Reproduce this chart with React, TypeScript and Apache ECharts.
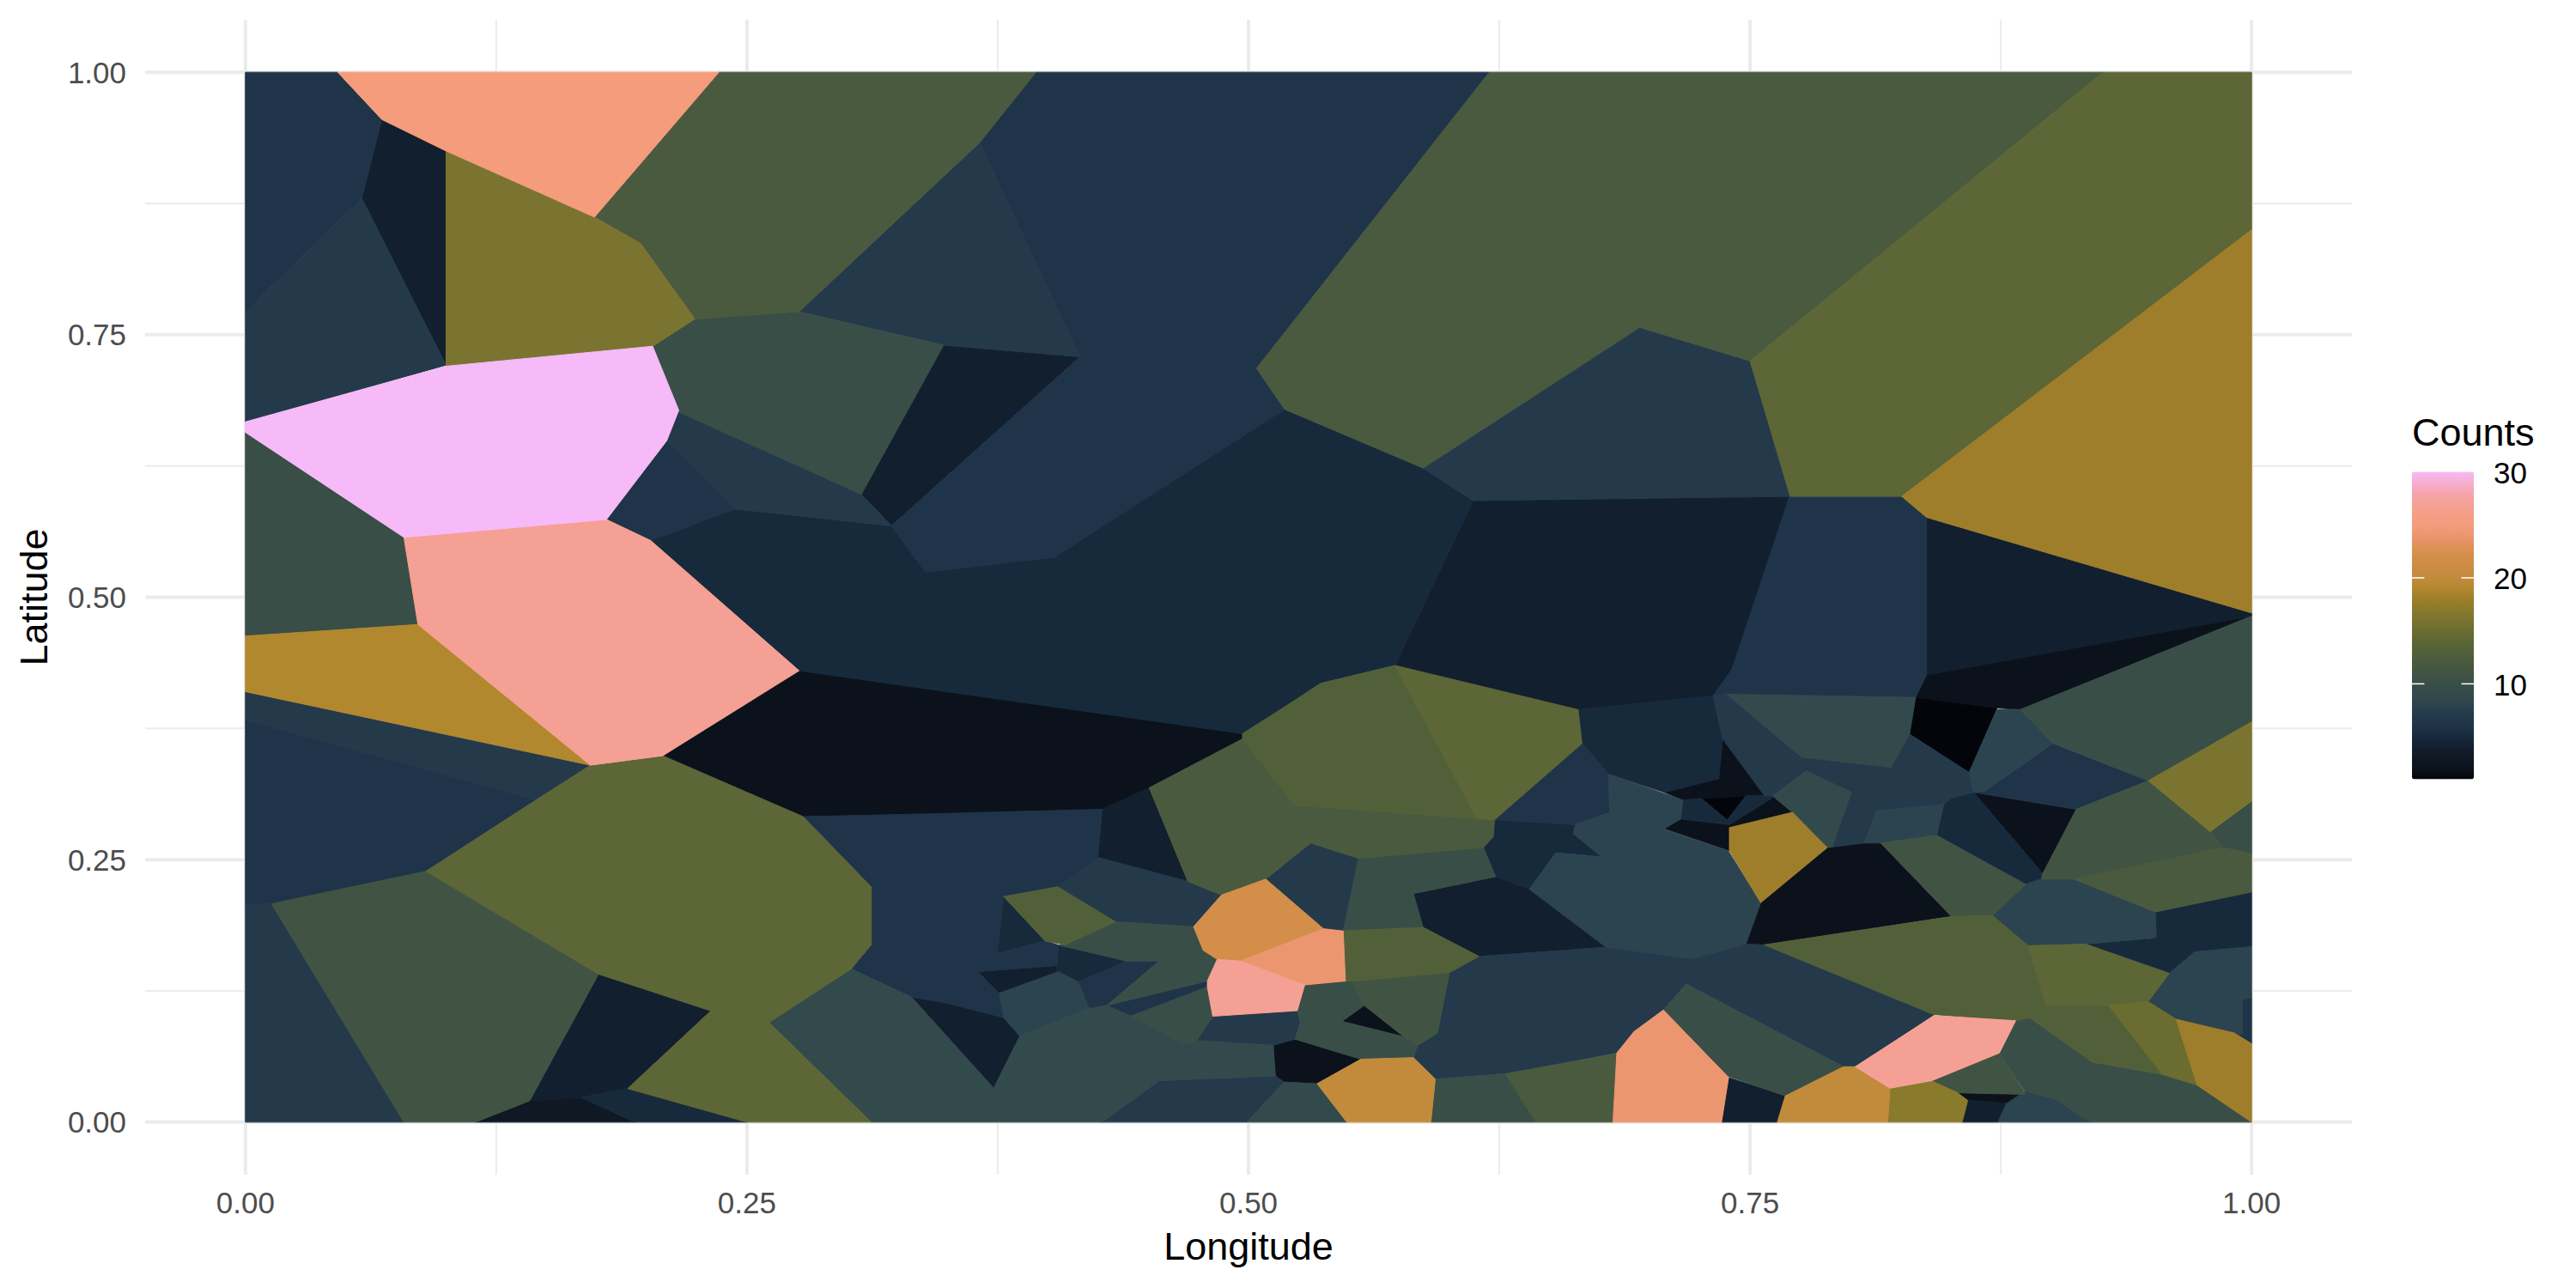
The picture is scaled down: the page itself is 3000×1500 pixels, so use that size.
import React, { useEffect, useRef } from "react";
import * as echarts from "echarts";

type Poly = number[][];

const xTitle = "Longitude";
const yTitle = "Latitude";
const legendTitle = "Counts";
const majorBreaks = [0, 0.25, 0.5, 0.75, 1];
const minorBreaks = [0.125, 0.375, 0.625, 0.875];
const legendBreaks = [10, 20, 30];
const minCount = 1;
const maxCount = 30;
const paletteColors = [
  "#04050a", "#0c121c", "#101824", "#121f2e", "#172a3c", "#1f3449", "#243a4b", "#2c4350", "#334a4c", "#394e47",
  "#415443", "#4a5a3f", "#52603a", "#5c6636", "#6b6c2f", "#7b7430", "#8a7a2c", "#9e7e2b", "#b2882f", "#c28b3c",
  "#cb8d42", "#d38e4a", "#df9258", "#ec9670", "#f49c7c", "#f59e88", "#f5a094", "#f6a5ae", "#f6aed0", "#f5baf7",
];

const cells1: Poly[] = [
  [[.8325,.4046],[.8731,.3944],[.8592,.3331],[.8295,.3696]],
  [[.7258,.3083],[.7479,.3106],[.7386,.2878]],
];
const cells2: Poly[] = [
  [[.208,.349],[.276,.430],[.497,.370],[.497,.365],[.4505,.3185],[.427,.298],[.3485,.294],[.278,.291]],
  [[.5123,.0732],[.5232,.079],[.556,.06],[.5342,.0367],[.5178,.0382],[.5134,.044]],
  [[.5577,.1112],[.5774,.0814],[.5466,.096]],
  [[.8325,.4046],[.838,.426],[1,.482],[.8847,.393],[.8731,.3944]],
  [[.8615,.3141],[.9126,.298],[.8959,.2367]],
  [[.7885,.2615],[.7908,.2621],[.807,.2659],[.8151,.2659],[.8504,.1959],[.757,.1689],[.7479,.1696],[.7553,.209]],
  [[.7344,.3272],[.7363,.3652],[.7571,.3112],[.7479,.3106],[.7258,.3083],[.7165,.3068],[.7073,.3141]],
  [[.7606,.3083],[.7613,.3106],[.7711,.2951],[.7397,.2805],[.7397,.2834]],
  [[.7154,.2887],[.7397,.2834],[.7397,.2586],[.7073,.2796]],
  [[.8534,.028],[.8875,.0265],[.8801,.0177],[.8585,.0207]],
];
const cells3: Poly[] = [
  [[.1147,0],[.1417,.0204],[.1674,.0237],[.194,0]],
];
const cells4: Poly[] = [
  [[.068,.955],[.100,.925],[.100,.721],[.058,.880]],
  [[.348,.740],[.416,.729],[.322,.568],[.307,.598]],
  [[.612,.592],[.770,.598],[.7409,.431],[.7316,.4061],[.6643,.3929],[.573,.435]],
  [[.838,.576],[1,.485],[1,.482],[.838,.426]],
  [[.427,.298],[.4505,.3185],[.4697,.2294],[.4249,.2522]],
  [[.332,.119],[.3485,.114],[.378,.0995],[.386,.082],[.373,.0323]],
  [[.3649,.1433],[.4042,.1491],[.4053,.1433],[.3758,.1228]],
  [[.5822,.2177],[.6232,.2338],[.64,.222],[.6783,.1666],[.6149,.1579],[.587,.1856]],
  [[.7393,.0425],[.7676,.025],[.7636,0],[.7358,0]],
  [[.8585,.0207],[.8778,.0177],[.8736,0],[.8557,0]],
  [[.176,.141],[.232,.106],[.1905,.032],[.1674,.0237],[.1417,.0204]],
];
const cells5: Poly[] = [
  [[.6226,.288],[.663,.2834],[.6619,.2747],[.6761,.2528],[.6532,.2566],[.64,.222],[.6232,.2338],[.6171,.2615],[.622,.272]],
  [[.6643,.3929],[.7316,.4061],[.7363,.3652],[.7344,.3272],[.7073,.3141],[.6794,.3316],[.6663,.3608],[.666,.364]],
  [[.4053,.1687],[.4391,.1535],[.4151,.1336],[.4042,.1433]],
  [[.378,.2148],[.3987,.1725],[.3747,.1608]],
  [[.8465,.3024],[.8499,.3097],[.8615,.3141],[.8959,.2367],[.8952,.2315],[.887,.2265],[.843,.2732]],
  [[.7165,.3068],[.7258,.3083],[.7386,.2878],[.7397,.2834],[.7154,.2887]],
  [[.7479,.3106],[.7571,.3112],[.7613,.3106],[.7606,.3083],[.7397,.2834],[.7386,.2878]],
  [[.9172,.1696],[.952,.1754],[.952,.2002],[1,.2192],[1,.1672],[.9717,.1622],[.959,.1418]],
  [[.1674,.0237],[.1905,.032],[.25,0],[.194,0]],
];
const cells6: Poly[] = [
  [[0,1],[.046,1],[.068,.955],[.058,.880],[0,.772]],
  [[.394,1],[.620,1],[.504,.718],[.518,.679],[.403,.538],[.339,.524],[.322,.568],[.416,.729],[.366,.933]],
  [[0,.383],[.145,.307],[.090,.239],[.013,.208],[0,.208]],
  [[.278,.291],[.3485,.294],[.427,.298],[.4249,.2522],[.4173,.2367],[.4048,.2242],[.378,.2148],[.3747,.1608],[.3649,.1433],[.3758,.1228],[.378,.0995],[.3485,.114],[.332,.119],[.302,.146],[.312,.169],[.312,.224]],
  [[.3747,.1608],[.3987,.1725],[.4053,.1687],[.4042,.1491],[.3649,.1433]],
  [[.4151,.1336],[.4391,.1535],[.4555,.1535],[.4293,.1112],[.4206,.1082]],
  [[.4293,.1112],[.4795,.1345],[.4795,.1287],[.4413,.101]],
  [[.6663,.3608],[.6794,.3316],[.68,.2951],[.663,.2834],[.6226,.288]],
  [[.770,.598],[.8256,.596],[.838,.576],[.838,.426],[.8325,.4046],[.7386,.4075],[.7316,.4061],[.7409,.431]],
  [[.901,.3608],[.9485,.3252],[.9126,.298],[.8615,.3141],[.8673,.3156]],
  [[.210,.649],[.244,.584],[.202,.554],[.180,.574]],
  [[.9954,.117],[1,.1185],[1,.0747],[.9914,.0849],[.9954,.0834]],
];
const cells7: Poly[] = [
  [[.366,.933],[.416,.729],[.348,.740],[.276,.772]],
  [[0,.772],[.058,.880],[.100,.721],[0,.667]],
  [[0,.410],[.172,.340],[.145,.307],[0,.383]],
  [[0,.208],[.013,.208],[.079,0],[0,0]],
  [[.216,.678],[.307,.598],[.322,.568],[.244,.584],[.210,.649]],
  [[.587,.623],[.695,.757],[.750,.725],[.770,.596],[.612,.592]],
  [[.4555,.0396],[.5134,.044],[.5178,.0382],[.4992,0],[.4271,0]],
  [[.6149,.1579],[.6783,.1666],[.7212,.1558],[.7479,.1696],[.757,.1689],[.8418,.1024],[.8024,.0528],[.7966,.0528],[.7182,.1316],[.7068,.1068],[.6922,.0863],[.5942,.0849],[.6001,.1424]],
  [[.5822,.0615],[.5844,.0732],[.5942,.0849],[.6922,.0863],[.6836,.0659],[.6281,.0461],[.5931,.041]],
  [[.4048,.2242],[.4249,.2522],[.4697,.2294],[.4865,.2163],[.4726,.1862],[.4337,.1909]],
  [[.4822,.1009],[.5243,.1062],[.5258,.095],[.5232,.079],[.5123,.0732],[.4741,.0776]],
  [[.5086,.2315],[.5309,.2659],[.5549,.2513],[.5472,.1821],[.5374,.1842]],
  [[.7316,.4061],[.7386,.4075],[.7757,.3477],[.7613,.3106],[.7571,.3112],[.7363,.3652]],
  [[.7757,.3477],[.8202,.338],[.8295,.3696],[.8592,.3331],[.8615,.3141],[.8499,.3083],[.8465,.3024],[.8128,.2966],[.807,.2659],[.7908,.2621],[.8005,.3141],[.778,.3345],[.7613,.3106]],
];
const cells8: Poly[] = [
  [[.959,.1418],[.9717,.1622],[1,.1672],[1,.1185],[.9954,.117],[.9954,.0834],[.9914,.0849],[.9624,.098],[.9485,.1147]],
  [[.8708,.1967],[.887,.2265],[.8952,.2315],[.9114,.2315],[.952,.2002],[.9525,.176],[.9172,.1696],[.8887,.1681]],
  [[.3758,.1228],[.4053,.1433],[.4151,.1336],[.4206,.1082],[.386,.082],[.378,.0995]],
  [[.64,.222],[.6532,.2566],[.676,.2528],[.6875,.2455],[.6922,.2761],[.7061,.2796],[.7391,.2586],[.7553,.209],[.7479,.1696],[.7212,.1558],[.6783,.1666]],
  [[.6619,.2747],[.663,.2834],[.68,.2951],[.6794,.3316],[.7165,.3068],[.7154,.2887],[.7073,.2796],[.6922,.2761],[.6875,.2455],[.676,.2528]],
  [[.8731,.393],[.8847,.393],[.901,.3608],[.8673,.3156],[.8615,.3141],[.8592,.3331]],
  [[.8128,.2966],[.8465,.3024],[.843,.2732],[.8151,.2659],[.807,.2659]],
  [[.887,.0294],[.9021,.0221],[.9195,0],[.8736,0],[.8778,.0177]],
];
const cells9: Poly[] = [
  [[.302,.146],[.332,.119],[.373,.0323],[.377,0],[.312,0],[.261,.095]],
  [[.373,.0323],[.386,.082],[.4206,.1082],[.4293,.1112],[.4413,.101],[.4675,.0747],[.4741,.0776],[.5123,.0732],[.5134,.044],[.4555,.0396],[.4271,0],[.377,0]],
  [[.4992,0],[.5178,.0382],[.5342,.0367],[.549,0]],
  [[.7386,.4075],[.8325,.4046],[.8295,.3696],[.8202,.338],[.7757,.3477]],
  [[.778,.3345],[.8005,.3141],[.7908,.2621],[.7885,.2615],[.7711,.2951],[.7613,.3106]],
];
const cells10: Poly[] = [
  [[.224,.765],[.276,.772],[.348,.740],[.307,.598],[.214,.678],[.203,.739]],
  [[0,.657],[.079,.557],[.086,.474],[0,.463]],
  [[.5931,.041],[.6281,.0461],[.6433,0],[.5909,0]],
  [[.7182,.1316],[.7068,.1068],[.7386,.044],[.7676,.025],[.7966,.0528]],
  [[.8847,.393],[1,.482],[1,.3813],[.9485,.3252],[.901,.3608]],
  [[.9794,.2767],[1,.3059],[1,.2557],[.9857,.2615]],
  [[.528,.1307],[.5516,.1345],[.5577,.1112],[.5466,.096],[.5774,.0814],[.5844,.0732],[.5822,.0615],[.556,.06],[.5232,.079],[.5258,.095],[.5243,.1062]],
  [[.4086,.169],[.4337,.1909],[.4726,.1862],[.4774,.1637],[.4844,.1558],[.4795,.1345],[.4293,.1112],[.4555,.1535],[.4391,.1535],[.4053,.1687]],
  [[.4413,.101],[.4795,.1287],[.4822,.1009],[.4741,.0776],[.4675,.0747]],
  [[.5549,.2513],[.6171,.2615],[.6232,.2338],[.5822,.2177],[.587,.1856],[.5472,.1821]],
  [[.8743,.0659],[.8824,.0966],[.8894,.0995],[.9207,.0571],[.9555,.0455],[.9729,.0352],[1,0],[.9195,0],[.9021,.0221],[.887,.0294]],
];
const cells11: Poly[] = [
  [[.013,.208],[.090,.239],[.176,.141],[.1417,.0204],[.1147,0],[.079,0]],
  [[.8952,.2315],[.8959,.2367],[.9126,.298],[.9485,.3252],[.9794,.2767],[.9857,.2615],[.9114,.2315]],
  [[.5516,.1345],[.6001,.1424],[.5942,.0849],[.5844,.0732],[.5774,.0814],[.5577,.1112]],
  [[.843,.2732],[.8875,.2265],[.8708,.1967],[.8504,.1959],[.8151,.2659]],
  [[.8407,.0396],[.8743,.0659],[.8875,.0265],[.8534,.028]],
];
const cells12: Poly[] = [
  [[.236,1],[.394,1],[.366,.933],[.276,.772],[.224,.765],[.197,.837],[.174,.862]],
  [[.620,1],[.926,1],[.750,.725],[.695,.757],[.587,.623],[.518,.679],[.504,.718]],
  [[.497,.365],[.523,.302],[.614,.289],[.6226,.288],[.622,.272],[.6171,.2615],[.5549,.2513],[.5309,.2659],[.5086,.2315],[.4865,.2163],[.4697,.2294],[.4505,.3185]],
  [[.6281,.0461],[.6837,.0653],[.6816,0],[.6433,0]],
  [[.9114,.2315],[.9857,.2615],[1,.2557],[1,.2192],[.952,.2002]],
];
const cells13: Poly[] = [
  [[.497,.365],[.497,.370],[.516,.393],[.536,.418],[.573,.435],[.614,.289],[.523,.302]],
  [[.378,.2148],[.4048,.2242],[.4337,.1909],[.4086,.169],[.3987,.1725]],
  [[.5472,.1821],[.587,.1856],[.6149,.1579],[.6001,.1424],[.5516,.1345],[.5483,.1345]],
  [[.757,.1689],[.8504,.1959],[.8708,.1967],[.8887,.1681],[.8975,.1112],[.9288,.1112],[.9555,.0455],[.9207,.0571],[.8894,.0995],[.8824,.0966],[.8418,.1024]],
];
const cells14: Poly[] = [
  [[.573,.435],[.6643,.3929],[.666,.364],[.6663,.3608],[.6226,.288],[.614,.289]],
  [[.172,.340],[.208,.349],[.278,.291],[.312,.224],[.312,.169],[.302,.146],[.261,.095],[.232,.106],[.176,.141],[.090,.239],[.145,.307]],
  [[.750,.725],[.926,1],[1,1],[1,.85],[.8256,.596],[.770,.596]],
  [[.8887,.1681],[.9172,.1696],[.959,.1418],[.9485,.1147],[.9288,.1112],[.8975,.1112]],
  [[.1905,.032],[.232,.106],[.261,.095],[.312,0],[.25,0]],
];
const cells15: Poly[] = [
  [[.9288,.1112],[.9485,.1147],[.9624,.098],[.9729,.0352],[.9555,.0455]],
];
const cells16: Poly[] = [
  [[.100,.925],[.174,.862],[.197,.837],[.224,.765],[.203,.739],[.100,.720]],
  [[.9485,.3252],[1,.3813],[1,.3059],[.9794,.2767]],
];
const cells17: Poly[] = [
  [[.8198,.0323],[.8407,.0391],[.8534,.028],[.8585,.0207],[.8557,0],[.8186,0]],
];
const cells18: Poly[] = [
  [[.8256,.596],[1,.85],[1,.485],[.838,.576]],
  [[.9624,.098],[.9914,.0849],[1,.0747],[1,0],[.9729,.0352]],
  [[.7397,.2805],[.7711,.2951],[.7885,.2615],[.7553,.209],[.7397,.2586]],
];
const cells19: Poly[] = [
  [[0,.463],[.086,.474],[.172,.340],[0,.410]],
];
const cells20: Poly[] = [
  [[.556,.06],[.5822,.0615],[.5931,.041],[.5909,0],[.549,0],[.5342,.0367]],
  [[.7966,.0528],[.8024,.0528],[.8198,.0323],[.8186,0],[.7636,0],[.7676,.025]],
];
const cells22: Poly[] = [
  [[.4865,.2163],[.5086,.2315],[.5374,.1842],[.4959,.1535],[.4844,.155],[.4774,.1637],[.4726,.1862]],
];
const cells24: Poly[] = [
  [[.4959,.1535],[.5374,.1842],[.5472,.1821],[.5483,.1345],[.528,.1307]],
  [[.7068,.1068],[.6922,.0863],[.6836,.0659],[.6817,0],[.7358,0],[.7393,.0425],[.7386,.044]],
];
const cells25: Poly[] = [
  [[.046,1],[.236,1],[.174,.862],[.100,.925],[.068,.955]],
];
const cells27: Poly[] = [
  [[.079,.557],[.180,.574],[.202,.554],[.276,.430],[.208,.349],[.172,.340],[.086,.474]],
  [[.4844,.155],[.4959,.1535],[.528,.1307],[.5243,.1062],[.4822,.1009],[.4795,.1287],[.4795,.1345]],
  [[.8418,.1015],[.8824,.0966],[.8743,.0659],[.8407,.0396],[.8198,.0323],[.8024,.0528]],
];
const cells30: Poly[] = [
  [[0,.667],[.100,.720],[.203,.739],[.216,.678],[.210,.649],[.180,.574],[.079,.557],[0,.657]],
];
// Large dark cell through the middle of the map.
const cells5Mid: Poly[] = [
  [[.202,.554],[.244,.584],[.322,.568],[.339,.524],[.403,.538],[.518,.679],[.587,.623],[.612,.592],[.573,.435],[.536,.418],[.516,.393],[.497,.370],[.276,.430]],
];

const cellGroups: [number, Poly[]][] = [
  [1, cells1], [2, cells2], [3, cells3], [4, cells4], [5, cells5], [5, cells5Mid], [6, cells6], [7, cells7], [8, cells8],
  [9, cells9], [10, cells10], [11, cells11], [12, cells12], [13, cells13], [14, cells14], [15, cells15], [16, cells16],
  [17, cells17], [18, cells18], [19, cells19], [20, cells20], [22, cells22], [24, cells24], [25, cells25], [27, cells27], [30, cells30],
];

const polys: Poly[] = [];
const cellData: number[][] = [];
cellGroups.forEach(([count, list]) => {
  list.forEach((p) => {
    cellData.push([count, polys.length]);
    polys.push(p);
  });
});

const gridLineData: number[][] = [
  ...majorBreaks.map((b) => [b, 1]),
  ...minorBreaks.map((b) => [b, 0]),
];

const FONT = "Liberation Sans";
const GRID_COLOR = "#ebebeb";

const LEG_LEFT = 2809;
const LEG_W = 72;
const LEG_TOP = 549.5;
const LEG_H = 358;
const legendY = (v: number) => LEG_TOP + ((maxCount - v) / (maxCount - minCount)) * LEG_H;

export default function App() {
  const ref = useRef<HTMLDivElement>(null);
  useEffect(() => {
    document.body.style.margin = "0";
    const chart = echarts.init(ref.current!, undefined, { renderer: "svg" });
    const legendGraphics: any[] = [
      {
        type: "text",
        left: LEG_LEFT,
        top: 481,
        z: 100,
        style: { text: legendTitle, font: `45px "${FONT}"`, fill: "#000" },
      },
    ];
    legendBreaks.forEach((b) => {
      const y = legendY(b);
      legendGraphics.push({
        type: "text",
        x: 2943,
        y: y + 1,
        z: 100,
        style: { text: String(b), font: `35px "${FONT}"`, fill: "#000", textAlign: "right", textVerticalAlign: "middle" },
      });
      if (b < maxCount) {
        [[LEG_LEFT, LEG_LEFT + LEG_W / 5], [LEG_LEFT + (LEG_W * 4) / 5, LEG_LEFT + LEG_W]].forEach(([a, c]) => {
          legendGraphics.push({
            type: "line",
            z: 100,
            shape: { x1: a, y1: y, x2: c, y2: y },
            style: { stroke: "#ffffff", lineWidth: 1.5 },
          });
        });
      }
    });
    chart.setOption({
      animation: false,
      backgroundColor: "#ffffff",
      grid: { left: 169, top: 23, width: 2570, height: 1345, containLabel: false },
      xAxis: {
        type: "value",
        min: -0.05,
        max: 1.05,
        name: xTitle,
        nameLocation: "middle",
        nameGap: 61,
        nameTextStyle: { fontFamily: FONT, fontSize: 45, color: "#000" },
        axisLine: { show: false },
        axisTick: { show: false },
        splitLine: { show: false },
        axisLabel: {
          customValues: majorBreaks,
          formatter: (v: number) => v.toFixed(2),
          fontFamily: FONT,
          fontSize: 35,
          color: "#4d4d4d",
          margin: 15,
          hideOverlap: false,
        },
      },
      yAxis: {
        type: "value",
        min: -0.05,
        max: 1.05,
        name: yTitle,
        nameLocation: "middle",
        nameGap: 107,
        nameTextStyle: { fontFamily: FONT, fontSize: 45, color: "#000" },
        axisLine: { show: false },
        axisTick: { show: false },
        splitLine: { show: false },
        axisLabel: {
          customValues: majorBreaks,
          formatter: (v: number) => v.toFixed(2),
          fontFamily: FONT,
          fontSize: 35,
          color: "#4d4d4d",
          margin: 22,
          hideOverlap: false,
        },
      },
      visualMap: {
        type: "continuous",
        seriesIndex: 1,
        dimension: 0,
        min: minCount,
        max: maxCount,
        left: LEG_LEFT,
        top: LEG_TOP,
        padding: 0,
        itemWidth: LEG_W,
        itemHeight: LEG_H,
        calculable: false,
        hoverLink: false,
        text: [],
        showLabel: false,
        inRange: { color: paletteColors },
      },
      graphic: legendGraphics,
      series: [
        {
          type: "custom",
          name: "grid",
          silent: true,
          clip: false,
          z: 1,
          data: gridLineData,
          encode: { x: 0, y: 0 },
          renderItem: (_p: any, api: any) => {
            const b = api.value(0);
            const major = api.value(1) === 1;
            const v0 = api.coord([b, -0.05]);
            const v1 = api.coord([b, 1.05]);
            const h0 = api.coord([-0.05, b]);
            const h1 = api.coord([1.05, b]);
            const style = { stroke: GRID_COLOR, lineWidth: major ? 4 : 2, fill: "none" };
            return {
              type: "group",
              children: [
                { type: "line", shape: { x1: v0[0], y1: v0[1], x2: v1[0], y2: v1[1] }, style },
                { type: "line", shape: { x1: h0[0], y1: h0[1], x2: h1[0], y2: h1[1] }, style },
              ],
            };
          },
        },
        {
          type: "custom",
          name: "cells",
          silent: true,
          clip: false,
          z: 2,
          data: cellData,
          encode: { x: 1, y: 1 },
          renderItem: (_p: any, api: any) => {
            const idx = api.value(1);
            const color = api.visual("color");
            const points = polys[idx].map((pt) => api.coord(pt));
            return {
              type: "polygon",
              shape: { points },
              style: { fill: color, stroke: color, lineWidth: 1 },
            };
          },
        },
      ],
    });
    return () => chart.dispose();
  }, []);
  return <div ref={ref} style={{ position: "absolute", left: 0, top: 0, width: 3000, height: 1500 }} />;
}
